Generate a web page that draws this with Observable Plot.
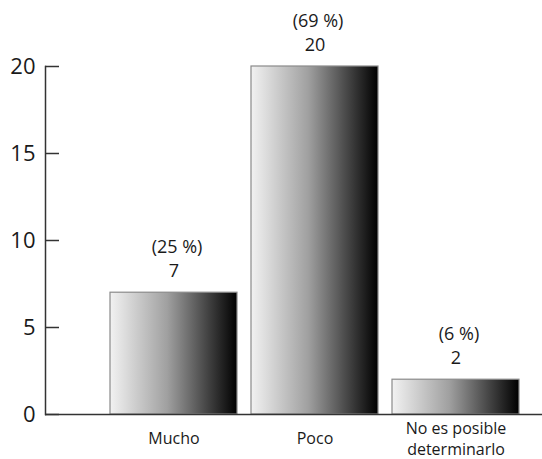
<!DOCTYPE html>
<html>
<head>
<meta charset="utf-8">
<script src="https://cdn.jsdelivr.net/npm/d3@7"></script>
<script src="https://cdn.jsdelivr.net/npm/@observablehq/plot@0.6"></script>
<style>
  html, body { margin: 0; padding: 0; background: #fff; }
  svg { display: block; }
</style>
</head>
<body>
<div id="chart"></div>
<script>
const categories = ["Mucho", "Poco", "No es posible\ndeterminarlo"];
const counts = [7, 20, 2];
const percents = ["(25 %)", "(69 %)", "(6 %)"];
const yTicks = [0, 5, 10, 15, 20];

const data = categories.map((c, i) => ({category: c, value: counts[i], pct: percents[i]}));

const font = "'Open Sans', 'Noto Sans', sans-serif";

const chart = Plot.plot({
  width: 542,
  height: 459,
  marginLeft: 45,
  marginRight: 0,
  marginTop: 66,
  marginBottom: 45,
  style: {fontFamily: font, color: "#1a1a1a", background: "#fff"},
  x: {domain: categories, range: [103, 526], paddingInner: 0.1, paddingOuter: 0.05, axis: null},
  y: {domain: [0, 20], axis: null},
  marks: [
    Plot.barY(data, {x: "category", y: "value", fill: "url(#barGrad)", stroke: "#8a8a8a", strokeWidth: 1.2}),
    Plot.text(data, {x: "category", y: "value", text: d => String(d.value), dy: -21, fontSize: 18, fill: "#1a1a1a"}),
    Plot.text(data, {x: "category", y: "value", text: "pct", dy: -45, dx: 3, fontSize: 18, fill: "#1a1a1a"}),
    Plot.axisY({ticks: yTicks, tickSize: -14, tickPadding: 24, fontSize: 22, stroke: "#333", strokeWidth: 1.5, fill: "#1a1a1a", label: null}),
    Plot.frame({anchor: "left", stroke: "#333", strokeWidth: 1.5}),
    Plot.ruleY([0], {stroke: "#333", strokeWidth: 1.5}),
    Plot.axisX({tickSize: 0, tickPadding: 23, lineAnchor: "middle", fontSize: 16, lineHeight: 1.36, fill: "#1a1a1a", label: null})
  ]
});

const defs = d3.select(chart).insert("defs", ":first-child");
const g = defs.append("linearGradient").attr("id", "barGrad").attr("x1", "0").attr("x2", "1").attr("y1", "0").attr("y2", "0");
g.append("stop").attr("offset", "0%").attr("stop-color", "#f2f2f2");
g.append("stop").attr("offset", "45%").attr("stop-color", "#a0a0a0");
g.append("stop").attr("offset", "100%").attr("stop-color", "#000");

document.getElementById("chart").appendChild(chart);
</script>
</body>
</html>
